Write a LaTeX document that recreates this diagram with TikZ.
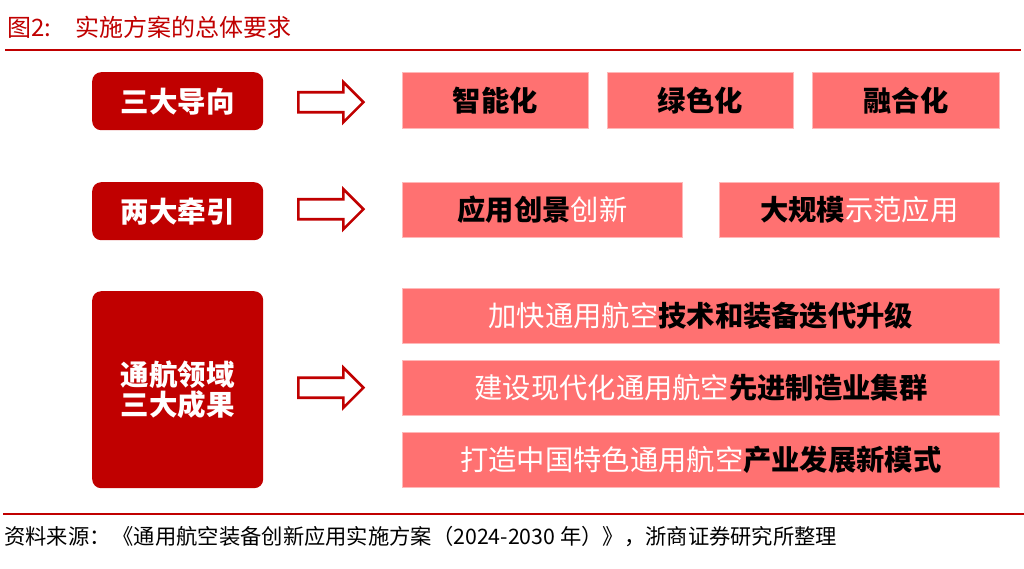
\documentclass[tikz,border=0pt]{standalone}
\usepackage{fontspec}
\newfontfamily\cjk{Noto Sans CJK SC}
\usetikzlibrary{calc}
\definecolor{dred}{HTML}{C00000}
\definecolor{pinkf}{HTML}{FF7171}
\definecolor{pinkb}{HTML}{FFB8B8}
\tikzset{
  leftbox/.style={fill=dred, draw=none, rounded corners=9pt, anchor=north west, text=white,
    font=\cjk\bfseries\fontsize{28.5}{30}\selectfont, align=center, inner sep=0pt},
  pinkbox/.style={fill=pinkf, draw=pinkb, line width=0.8pt, anchor=north west,
    font=\cjk\fontsize{28.3}{32}\selectfont, text=black, inner sep=0pt},
  blockarr/.style={draw=dred, fill=white, line width=2.6pt, line join=miter},
  rule/.style={draw=dred, line width=2pt},
}
\newcommand{\bk}[1]{{\bfseries\color{black}#1}}
\newcommand{\wt}[1]{{\mdseries\color{white}#1}}
\begin{document}
\begin{tikzpicture}[x=1pt,y=-1pt]
\useasboundingbox (0,0) rectangle (1024,568);
% title
\node[anchor=west, text=dred, font=\cjk\fontsize{24}{28}\selectfont, inner sep=0pt] (title) at (7,27) {图2:\hspace{24pt}实施方案的总体要求};
\coordinate (t1) at (5,50);
\coordinate (t2) at (1021,50);
\draw[rule] (t1) -- (t2);
% left boxes
\node[leftbox, minimum width=171pt, minimum height=58pt] (l1) at (92,72) {三大导向};
\node[leftbox, minimum width=171pt, minimum height=58pt] (l2) at (92,182) {两大牵引};
\node[leftbox, minimum width=171pt, minimum height=197pt] (l3) at (92,291) {通航领域\\三大成果};
% right boxes row 1
\node[pinkbox, minimum width=186pt, minimum height=56pt] (r11) at (402,72) {\bk{智能化}};
\node[pinkbox, minimum width=186pt, minimum height=56pt] (r12) at (607,72) {\bk{绿色化}};
\node[pinkbox, minimum width=187pt, minimum height=56pt] (r13) at (812,72) {\bk{融合化}};
% row 2
\node[pinkbox, minimum width=280pt, minimum height=55pt] (r21) at (402,182) {\bk{应用创景}\wt{创新}};
\node[pinkbox, minimum width=280pt, minimum height=55pt] (r22) at (719,182) {\bk{大规模}\wt{示范应用}};
% row 3
\node[pinkbox, minimum width=597pt, minimum height=55pt] (r31) at (402,288) {\wt{加快通用航空}\bk{技术和装备迭代升级}};
\node[pinkbox, minimum width=597pt, minimum height=55pt] (r32) at (402,360) {\wt{建设现代化通用航空}\bk{先进制造业集群}};
\node[pinkbox, minimum width=597pt, minimum height=55pt] (r33) at (402,432) {\wt{打造中国特色通用航空}\bk{产业发展新模式}};
% block arrows
\foreach \n/\dy in {l1/1, l2/-2, l3/-2}{
  \path (\n.east) ++(35,\dy) coordinate (\n s);
  \draw[blockarr, shift={(\n s)}] (0,-10) -- (45,-10) -- (45,-20) -- (65,0) -- (45,20) -- (45,10) -- (0,10) -- cycle;
}
% footer
\coordinate (f1) at (3,514);
\coordinate (f2) at (1024,514);
\draw[rule] (f1) -- (f2);
\node[anchor=west, font=\cjk\fontsize{21.3}{25}\selectfont, inner sep=0pt] (src) at (4,537) {资料来源：\hspace{2pt}《通用航空装备创新应用实施方案（2024-2030 年）》，浙商证券研究所整理};
\end{tikzpicture}
\end{document}
